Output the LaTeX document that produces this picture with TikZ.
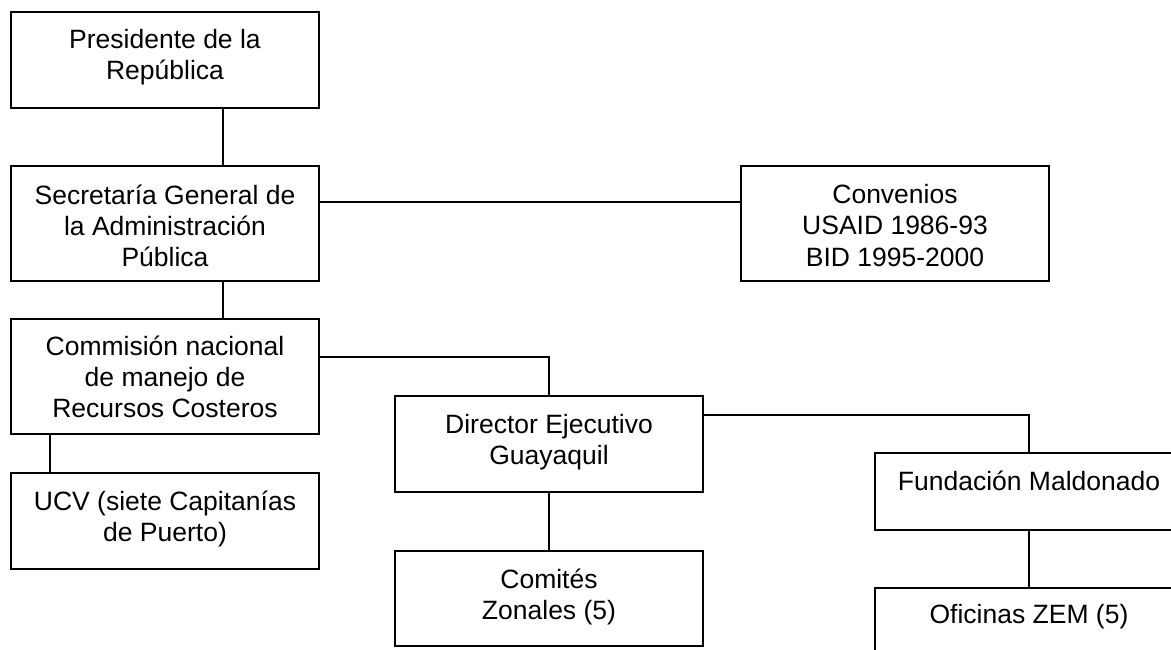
\documentclass[tikz,border=0pt]{standalone}
\usepackage{fontspec}
\setmainfont{Liberation Sans}
\newcommand{\bx}[4]{\parbox[c][#2pt][t]{#1pt}{\centering\rule{0pt}{#3pt}#4}}
\tikzset{
  box/.style={draw, line width=1.6pt, inner sep=0pt, font=\fontsize{26.5}{31.3}\selectfont},
  link/.style={line width=1.4pt}
}
\begin{document}
\begin{tikzpicture}[x=1pt,y=-1pt]
\fill[white] (0,0) rectangle (1171,650);
\clip (0,0) rectangle (1171,650);
\node[box] (pres) at (165,60) {\bx{308}{96}{36.5}{Presidente de la\\República}};
\node[box] (sec) at (165,223.5) {\bx{308}{115}{38}{Secretaría General de\\la Administración\\Pública}};
\node[box] (conv) at (895,223.5) {\bx{308}{115}{37.5}{Convenios\\USAID 1986-93\\BID 1995-2000}};
\node[box] (com) at (165,376.5) {\bx{308}{115}{36}{Commisión nacional\\de manejo de\\Recursos Costeros}};
\node[box] (ucv) at (165,521) {\bx{308}{96}{37}{UCV (siete Capitanías\\de Puerto)}};
\node[box] (dir) at (549,444) {\bx{308}{96}{37}{Director Ejecutivo\\Guayaquil}};
\node[box] (comi) at (549,598.5) {\bx{308}{95}{37.3}{Comités\\Zonales (5)}};
\node[box] (fund) at (1029,491.5) {\bx{308}{77}{37.7}{Fundación Maldonado}};
\node[box] (ofi) at (1029,636) {\bx{308}{96}{35.3}{Oficinas ZEM (5)}};
\draw[link] ([xshift=58pt]pres.south) -- ([xshift=58pt]sec.north);
\draw[link] ([yshift=21.5pt]sec.east) -- ([yshift=21.5pt]conv.west);
\draw[link] ([xshift=58pt]sec.south) -- ([xshift=58pt]com.north);
\draw[link] ([yshift=19.5pt]com.east) -| (dir.north);
\draw[link] ([xshift=-115pt]com.south) -- ([xshift=-115pt]ucv.north);
\draw[link] ([yshift=29pt]dir.east) -| (fund.north);
\draw[link] (dir.south) -- (comi.north);
\draw[link] (fund.south) -- (ofi.north);
\end{tikzpicture}
\end{document}
